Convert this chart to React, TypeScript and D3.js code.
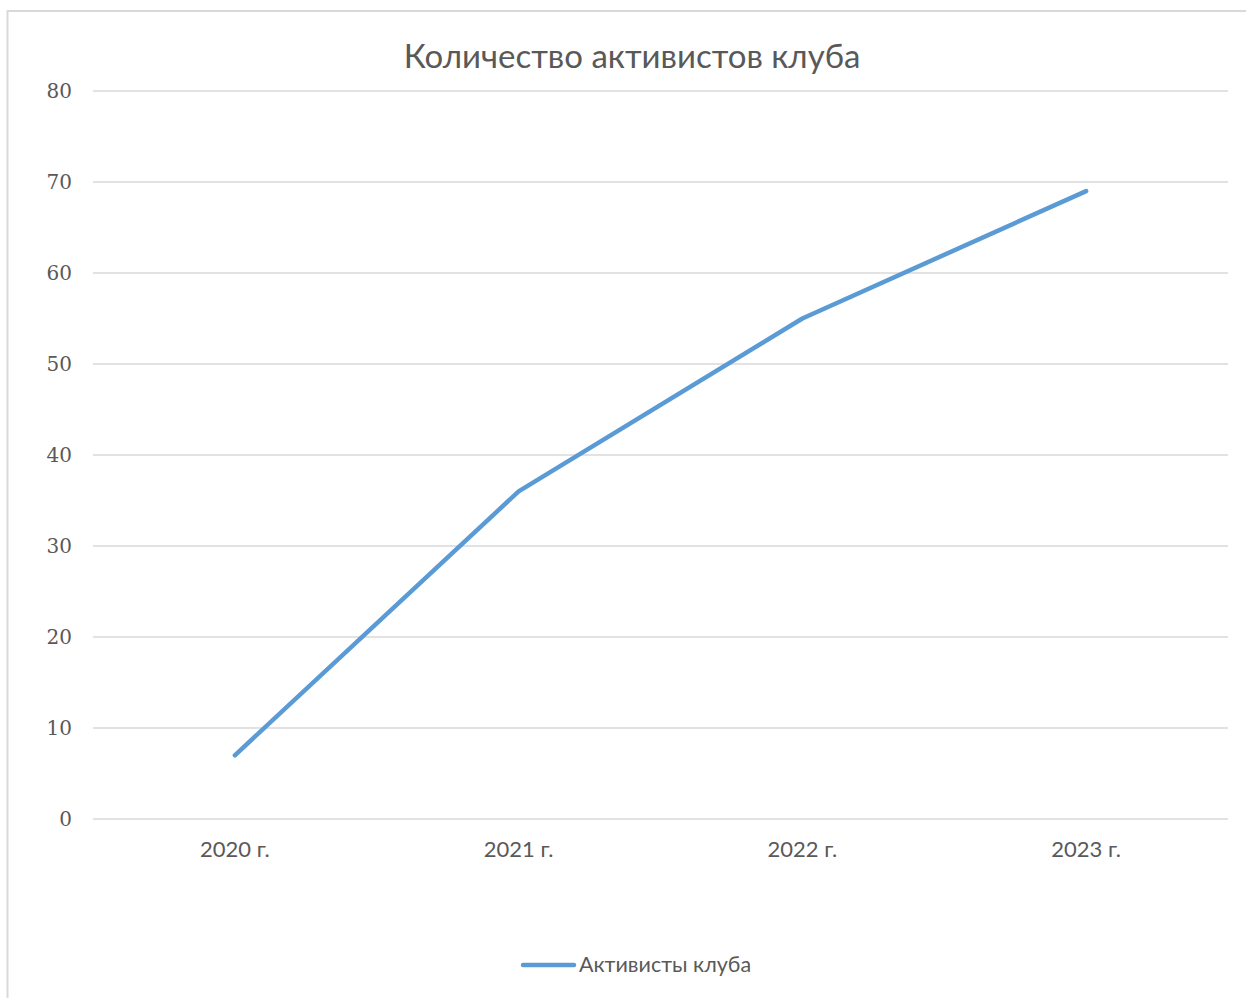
import { useEffect, useRef } from 'react';
import * as d3 from 'd3';

const years = ['2020 г.', '2021 г.', '2022 г.', '2023 г.'];
const activists = [7, 36, 55, 69];
const yTicks = [0, 10, 20, 30, 40, 50, 60, 70, 80];
const title = 'Количество активистов клуба';
const seriesName = 'Активисты клуба';

const W = 1246;
const H = 998;

const App = () => {
  const svgRef = useRef<SVGSVGElement>(null);

  useEffect(() => {
    if (!svgRef.current) return;
    const svg = d3.select(svgRef.current);
    svg.selectAll('*').remove();

    const left = 93;
    const right = 1228;
    const top = 91;
    const bottom = 819;

    const x = d3.scaleBand<string>().domain(years).range([left, right]);
    const y = d3.scaleLinear().domain([0, 80]).range([bottom, top]);

    // chart frame
    svg.append('rect')
      .attr('x', 7.5)
      .attr('y', 11)
      .attr('width', W + 20)
      .attr('height', H + 20)
      .attr('fill', 'white')
      .attr('stroke', '#d9d9d9')
      .attr('stroke-width', 2);

    svg.append('text')
      .attr('x', 632)
      .attr('y', 68)
      .attr('text-anchor', 'middle')
      .attr('font-family', 'Lato, "Open Sans", sans-serif')
      .attr('font-size', 33)
      .attr('fill', '#595959')
      .text(title);

    // grid
    svg.append('g')
      .selectAll('line')
      .data(yTicks)
      .enter()
      .append('line')
      .attr('x1', left)
      .attr('x2', right)
      .attr('y1', d => y(d))
      .attr('y2', d => y(d))
      .attr('stroke', '#d9d9d9')
      .attr('stroke-width', 1.3);

    svg.append('g')
      .selectAll('text')
      .data(yTicks)
      .enter()
      .append('text')
      .attr('x', 72)
      .attr('y', d => y(d) + 7)
      .attr('text-anchor', 'end')
      .attr('font-family', '"DejaVu Serif", serif')
      .attr('font-size', 20)
      .attr('fill', '#595959')
      .text(d => d);

    svg.append('g')
      .selectAll('text')
      .data(years)
      .enter()
      .append('text')
      .attr('x', d => (x(d) ?? 0) + x.bandwidth() / 2)
      .attr('y', 857)
      .attr('text-anchor', 'middle')
      .attr('font-family', 'Lato, "Open Sans", sans-serif')
      .attr('font-size', 22)
      .attr('fill', '#595959')
      .text(d => d);

    const line = d3.line<number>()
      .x((_, i) => (x(years[i]) ?? 0) + x.bandwidth() / 2)
      .y(d => y(d));

    svg.append('path')
      .datum(activists)
      .attr('d', line)
      .attr('fill', 'none')
      .attr('stroke', '#5b9bd5')
      .attr('stroke-width', 4.5)
      .attr('stroke-linecap', 'round')
      .attr('stroke-linejoin', 'round');

    // legend
    svg.append('line')
      .attr('x1', 523)
      .attr('x2', 574)
      .attr('y1', 965)
      .attr('y2', 965)
      .attr('stroke', '#5b9bd5')
      .attr('stroke-width', 4.5)
      .attr('stroke-linecap', 'round');

    svg.append('text')
      .attr('x', 579)
      .attr('y', 972)
      .attr('font-family', 'Lato, "Open Sans", sans-serif')
      .attr('font-size', 21.5)
      .attr('fill', '#595959')
      .text(seriesName);
  }, []);

  return (
    <div style={{ position: 'absolute', left: 0, top: 0, width: W, height: H, overflow: 'hidden', background: 'white' }}>
      <svg ref={svgRef} width={W} height={H}></svg>
    </div>
  );
};

export default App;
